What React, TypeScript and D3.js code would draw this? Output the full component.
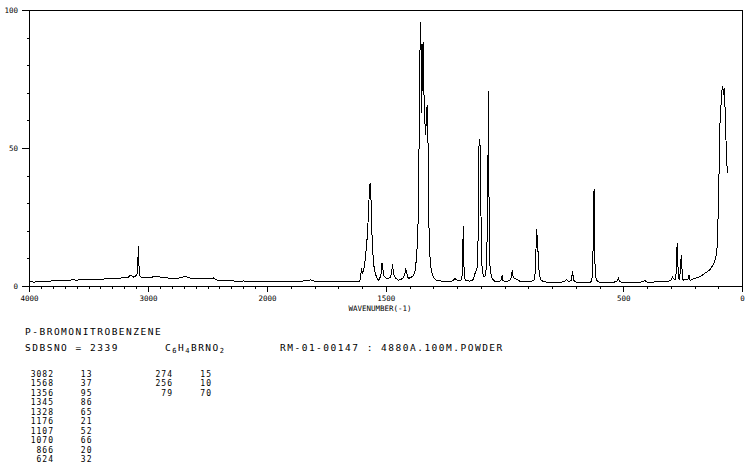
import React from "react";
import * as d3 from "d3";

// Raman spectrum of p-bromonitrobenzene: [wavenumber (cm-1), relative intensity]
const spectrum: [number, number][] = [
  [4000,1.7],[3960,1.6],[3930,1.9],[3900,1.8],[3870,2.0],[3840,1.9],[3800,2.1],[3760,2.0],[3720,2.2],[3680,2.2],
  [3640,2.4],[3600,2.3],[3560,2.5],[3520,2.5],[3480,2.4],[3440,2.7],[3400,2.6],[3360,2.8],[3320,2.8],[3280,3.0],
  [3240,3.0],[3200,3.3],[3170,3.2],[3155,4.2],[3145,4.0],[3130,3.4],[3110,3.6],[3096,4.5],[3090,7],[3086,14.5],
  [3083,14.8],[3080,7.5],[3076,6.8],[3072,3.8],[3060,3.3],[3040,3.4],[3010,3.3],[2980,3.3],[2950,3.6],[2930,3.7],
  [2910,3.5],[2880,3.3],[2850,3.1],[2800,3.0],[2760,3.0],[2720,3.2],[2700,3.6],[2685,3.7],[2670,3.3],[2640,3.0],
  [2600,2.8],[2560,2.9],[2520,2.8],[2480,3.0],[2455,3.1],[2440,2.6],[2420,2.2],[2380,2.1],[2340,2.0],[2300,2.1],
  [2260,1.9],[2200,2.0],[2150,1.9],[2100,1.8],[2050,1.9],[2000,1.8],
  [1960,1.7],[1920,1.8],[1880,1.8],[1850,2.0],[1830,2.2],[1820,2.4],[1808,2.0],[1780,1.9],[1740,1.8],[1700,1.7],
  [1660,1.8],[1630,1.7],[1612,1.8],[1608,3.5],[1604,6.5],[1600,5.0],[1596,5.5],[1591,8],[1586,12],[1580,18],
  [1575,26],[1571,35],[1568,37.5],[1565,34],[1562,24],[1558,14],[1553,8],[1546,4.5],[1538,3],[1533,2.3],
  [1527,3],[1521,5],[1518,8.4],[1514,6],[1510,4],[1504,3.2],[1498,2.8],[1490,3],[1482,3.4],[1477,5],
  [1474,8.1],[1471,6],[1467,4],[1460,3],[1449,2.3],[1440,2.5],[1430,3],[1422,4.5],[1418,6.6],[1414,5],
  [1410,3.3],[1405,3],[1398,3.2],[1386,3.8],[1378,6],[1372,10.8],[1367,20],[1364,30],[1361,60],[1358,85],
  [1356,96],[1353,86],[1351,62.7],[1348,78],[1345,88.7],[1342,72],[1339,64],[1335,55],[1331,60],[1328,65.8],
  [1325,57],[1323,45],[1321,25.3],[1318,14],[1315,9.6],[1310,5.5],[1305,4.2],[1298,3],[1290,2.3],[1270,2],
  [1250,1.8],[1231,1.7],[1218,2.2],[1211,3],[1204,2.4],[1195,2],[1185,2.4],[1180,4],[1178,10],[1176,22],
  [1174,12],[1172,5],[1168,2.4],[1160,2.2],[1150,1.9],[1140,2.1],[1133,2.6],[1126,4.8],[1118,6.5],[1114,12],
  [1112,35.5],[1109,53.3],[1106,52],[1104,50.6],[1102,36],[1100,15],[1098,8.5],[1094,4.8],[1088,3.5],[1082,4],
  [1078,8],[1075,18.6],[1072,40],[1070,70.8],[1068,40],[1066,18],[1063,7],[1060,4.9],[1055,3],[1048,2.3],
  [1040,1.7],[1025,1.8],[1016,2.4],[1012,4.2],[1009,2.2],[1000,1.8],[985,2],[976,2.6],[971,5],[969,6],
  [966,3.5],[962,3],[955,2.8],[948,2.6],[938,1.9],[920,1.7],[895,1.7],[878,2.2],[873,5],[870,12],
  [867,21],[864,17],[862,15],[859,8.4],[855,4.2],[850,2.5],[840,1.8],[820,1.5],[800,1.4],[780,1.5],
  [760,1.6],[746,2],[740,2.6],[735,2],[728,1.8],[722,2.2],[718,4],[716,5.7],[713,3.5],[709,2],
  [700,1.5],[680,1.4],[660,1.5],[645,1.4],[636,1.8],[632,4],[629,14],[627,28],[625,35.3],[623,22],
  [621,8],[618,3.5],[614,2.3],[605,1.6],[590,1.5],[570,1.4],[545,1.5],[530,1.8],[525,2.6],[522,3],
  [518,2],[512,1.6],[490,1.5],[470,1.4],[450,1.5],[430,1.6],[418,1.7],[413,2.1],[409,2],[400,1.6],
  [380,1.6],[360,1.7],[340,1.7],[320,1.9],[310,2],[305,2.1],[299,2.5],[295,3.5],[292,3],[288,2.7],
  [284,2.4],[281,3],[279,6],[277,12],[275,15.9],[274,14],[272,8],[270,4],[268,3],[266,2.8],
  [264,3.5],[261,7],[259,10],[258,11.4],[256,9],[254,5],[252,3],[250,2.3],[245,2.5],[240,2.6],
  [235,2.4],[230,2.5],[227,3.5],[225,4.2],[223,2.5],[220,2.3],[210,2.6],[200,3],[190,3.2],[180,3.6],
  [170,4.1],[159,4.8],[148,5.4],[138,6],[130,7],[121,8.4],[115,9.8],[112,10.8],[109,12.5],[107,14.4],
  [105,18],[104,21.7],[102,28],[101,33.8],[99,40],[98,45.8],[97,52],[95.5,57.9],[93,62],[91,65.1],
  [89,68],[87,70.6],[85,72],[83,72.6],[81.5,71],[80,69.4],[78.5,70.5],[77,71.8],[76,70],[74.5,66.4],
  [73,64],[71.5,61.5],[70,56],[69,50.7],[67,47],[65,43.4],[63,41],
];

const xMajorLabels = [4000, 3000, 2000, 1500, 500, 0];
const yTicks = [0, 10, 20, 30, 40, 50, 60, 70, 80, 90, 100];
const yLabels = [0, 50, 100];

const peakWavenumbers = ["3082", "1568", "1356", "1345", "1328", "1176", "1107", "1070", "866", "624", "274", "256", "79"];
const peakIntensities = ["13", "37", "95", "86", "65", "21", "52", "66", "20", "32", "15", "10", "70"];

const compoundName = "P-BROMONITROBENZENE";
const sdbsNo = "SDBSNO = 2339";
const measurement = "RM-01-00147 : 4880A.100M.POWDER";
const axisTitle = "WAVENUMBER(-1)";

const MONO = "'DejaVu Sans Mono', 'Liberation Mono', monospace";

export default function App() {
  const x = d3.scaleLinear().domain([4000, 2000, 0]).range([29.5, 267.5, 742.5]);
  const y = d3.scaleLinear().domain([0, 100]).range([286.5, 10.5]);
  const line = d3
    .line<[number, number]>()
    .x((d) => x(d[0]))
    .y((d) => y(d[1]));

  const xTicks = d3.range(4000, -1, -100);
  const rowsPerCol = 10;

  return (
    <svg
      width={753}
      height={469}
      style={{ position: "absolute", left: 0, top: 0, background: "#fff" }}
    >
      <rect x={0} y={0} width={753} height={469} fill="#fff" />
      {/* frame */}
      <g stroke="#000" strokeWidth={1} fill="none" shapeRendering="crispEdges">
        <line x1={x(4000)} x2={x(0)} y1={y(100)} y2={y(100)} />
        <line x1={x(4000)} x2={x(0)} y1={y(0)} y2={y(0)} />
        <line x1={x(4000)} x2={x(4000)} y1={y(100)} y2={y(0)} />
        <line x1={x(0)} x2={x(0)} y1={y(100)} y2={y(0)} />
        {yTicks.map((t) => (
          <line key={"yt" + t} x1={x(4000) - (yLabels.includes(t) ? 7.5 : 2.5)} x2={x(4000)} y1={y(t)} y2={y(t)} />
        ))}
        {xTicks.map((t) => (
          <line key={"xt" + t} x1={x(t)} x2={x(t)} y1={y(0)} y2={y(0) + (xMajorLabels.includes(t) ? 5 : 2.5)} />
        ))}
      </g>
      {/* spectrum */}
      <path d={line(spectrum) || ""} fill="none" stroke="#000" strokeWidth={1} shapeRendering="crispEdges" />
      {/* axis labels */}
      <g fontFamily={MONO} fontSize={7.5} fill="#000">
        {yLabels.map((t) => (
          <text key={"yl" + t} x={18} y={y(t)} dy="0.35em" textAnchor="end">
            {t}
          </text>
        ))}
        {xMajorLabels.map((t) => (
          <text key={"xl" + t} x={x(t)} y={301} textAnchor="middle">
            {t}
          </text>
        ))}
        <text x={380} y={310.5} textAnchor="middle">
          {axisTitle}
        </text>
      </g>
      {/* header */}
      <g fontFamily={MONO} fontSize={9.5} letterSpacing={1.5} fill="#000">
        <text x={25} y={334.5}>{compoundName}</text>
        <text x={25} y={351}>{sdbsNo}</text>
        <text x={165} y={351}>
          C<tspan fontSize={7} dy={2}>6</tspan>
          <tspan dy={-2}>H</tspan>
          <tspan fontSize={7} dy={2}>4</tspan>
          <tspan dy={-2}>BRNO</tspan>
          <tspan fontSize={7} dy={2}>2</tspan>
        </text>
        <text x={280} y={351}>{measurement}</text>
      </g>
      {/* peak table */}
      <g fontFamily={MONO} fontSize={8} letterSpacing={1} fill="#000" textAnchor="end">
        {peakWavenumbers.map((w, i) => {
          const col = Math.floor(i / rowsPerCol);
          const row = i % rowsPerCol;
          const yy = 376.7 + row * 9.5;
          const xw = col === 0 ? 54 : 173;
          const xi = col === 0 ? 92.5 : 212;
          return (
            <g key={"pk" + i}>
              <text x={xw} y={yy}>{w}</text>
              <text x={xi} y={yy}>{peakIntensities[i]}</text>
            </g>
          );
        })}
      </g>
    </svg>
  );
}
